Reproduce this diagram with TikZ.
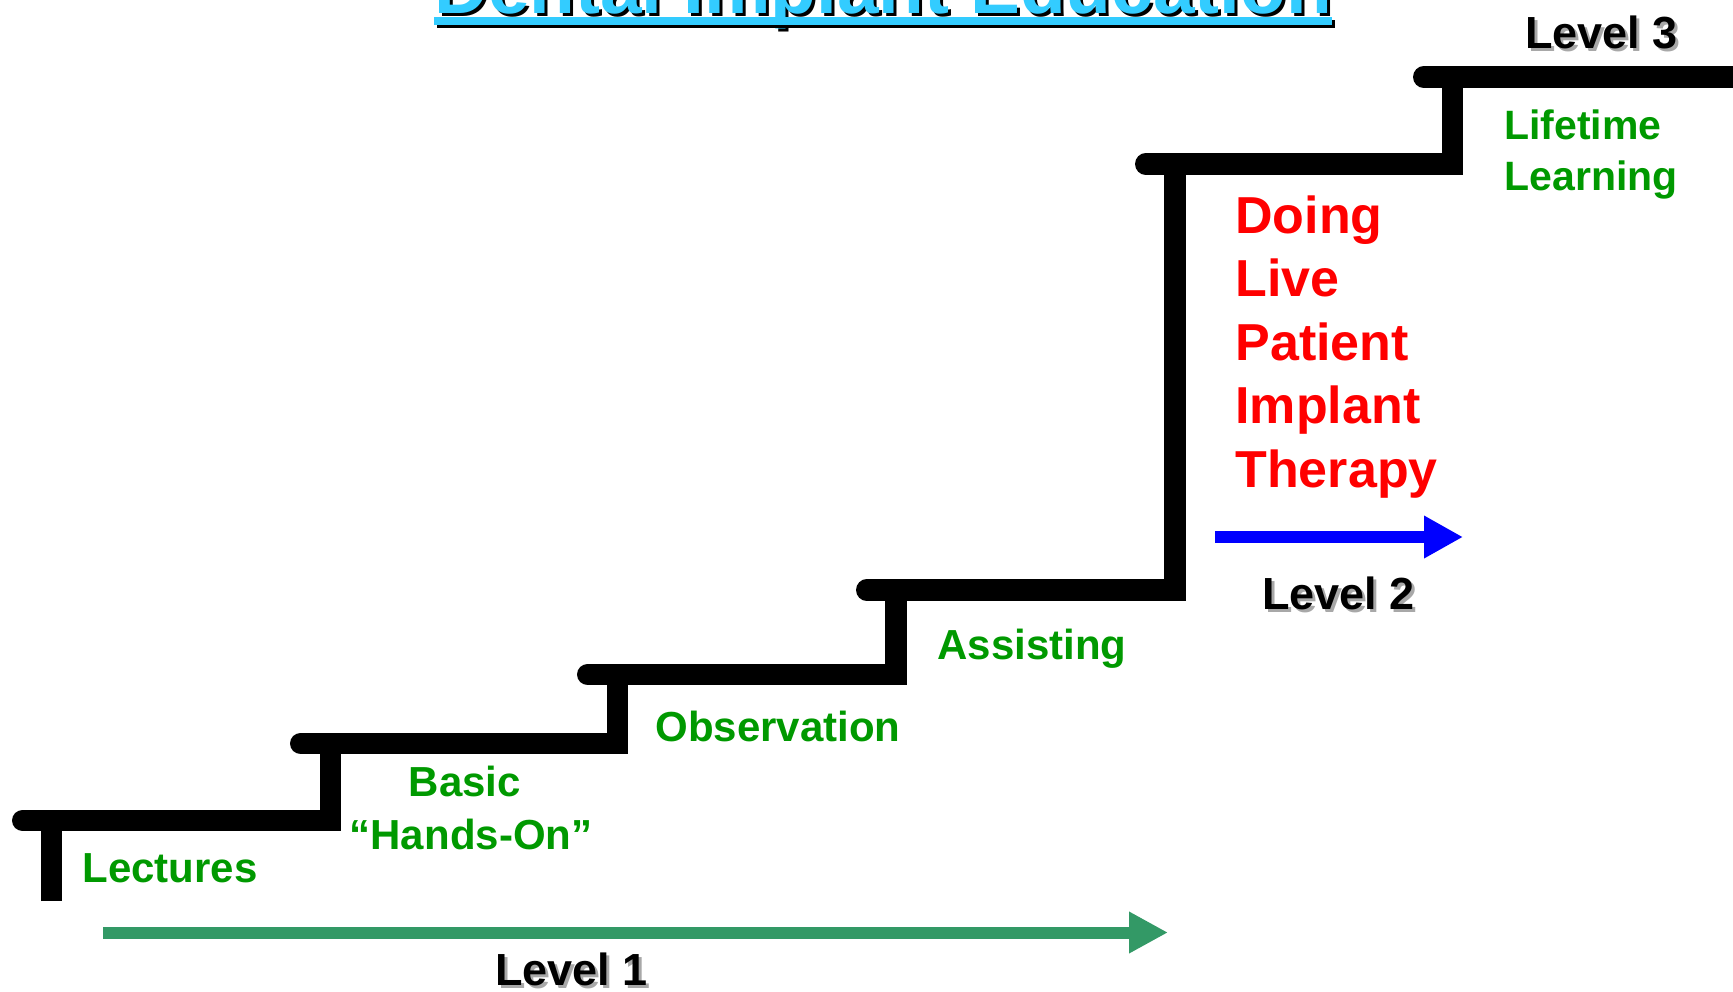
\documentclass[tikz,border=0pt]{standalone}
\usepackage{fontspec}
\setmainfont{Liberation Sans}
\usetikzlibrary{arrows.meta}
\definecolor{lblgreen}{HTML}{009900}
\definecolor{arrgreen}{HTML}{339966}
\definecolor{titlecyan}{HTML}{33CCFF}
\definecolor{shadowgray}{HTML}{A8A8A8}
\definecolor{arrblue}{HTML}{0000FF}
\definecolor{txtred}{HTML}{FF0000}
\begin{document}
\begin{tikzpicture}[x=0.5pt,y=-0.5pt,
  stair/.style={line width=10.75pt, draw=black, miter limit=10},
  stub/.style={line width=10.75pt, draw=black, line cap=round},
  lbl/.style={inner sep=0pt, anchor=base west, text=lblgreen, font=\fontsize{21pt}{25pt}\selectfont\bfseries},
  redlbl/.style={inner sep=0pt, anchor=base west, text=txtred, font=\fontsize{26pt}{31pt}\selectfont\bfseries},
  lvl/.style={inner sep=0pt, anchor=base west, text=black, font=\fontsize{22.5pt}{27pt}\selectfont\bfseries},
  lvlshadow/.style={lvl, text=shadowgray},
  titlefont/.style={inner sep=0pt, anchor=base, font=\fontsize{37.4pt}{44pt}\selectfont\bfseries},
  levelarrow/.style={line width=6pt}
]
\useasboundingbox (0,0) rectangle (1733,991);
\clip (0,0) rectangle (1733,991);

% Title (cut off at the top)
\node[titlefont, text=black] (tsh) at (886,16) {Dental Implant Education};
\node[titlefont, text=titlecyan] (t) at (883,13) {Dental Implant Education};
\coordinate (ua) at (0,17);
\coordinate (ub) at (0,25);
\coordinate (uc) at (0,20);
\coordinate (ud) at (0,28);
\fill[black] (tsh.west |- uc) rectangle (tsh.east |- ud);
\fill[titlecyan] (t.west |- ua) rectangle (t.east |- ub);

% Staircase
\draw[stair] (51.5,901) -- (51.5,820.5) -- (330.5,820.5) -- (330.5,743.5)
  -- (617.5,743.5) -- (617.5,674.5) -- (896,674.5) -- (896,590)
  -- (1175,590) -- (1175,164) -- (1452.5,164) -- (1452.5,77) -- (1745,77);
\draw[stub] (22.75,820.5) -- (51.5,820.5);
\draw[stub] (300.75,743.5) -- (330.5,743.5);
\draw[stub] (587.75,674.5) -- (617.5,674.5);
\draw[stub] (866.75,590) -- (896,590);
\draw[stub] (1145.75,164) -- (1175,164);
\draw[stub] (1423.75,77) -- (1452.5,77);

% Green labels
\node[lbl] (lect) at (82,882) {Lectures};
\node[lbl, anchor=base] (basic) at (465,796) {Basic};
\node[lbl, anchor=base] (hands) at (471,849) {``Hands-On''};
\node[lbl] (obs) at (655,741) {Observation};
\node[lbl] (assist) at (937,659) {Assisting};
\node[lbl, font=\fontsize{20.5pt}{25pt}\selectfont\bfseries] (life) at (1504,139) {Lifetime};
\node[lbl, font=\fontsize{20.5pt}{25pt}\selectfont\bfseries] (learn) at (1504,190) {Learning};

% Red labels
\node[redlbl] (d1) at (1235,233) {Doing};
\node[redlbl] (d2) at (1235,296.5) {Live};
\node[redlbl] (d3) at (1235,360) {Patient};
\node[redlbl] (d4) at (1235,423.5) {Implant};
\node[redlbl] (d5) at (1235,487) {Therapy};

% Level labels with shadows
\node[lvlshadow] (l1s) at (498,988) {Level 1};
\node[lvl] (l1) at (495,985) {Level 1};
\node[lvlshadow] (l2s) at (1265,612) {Level 2};
\node[lvl] (l2) at (1262,609) {Level 2};
\node[lvlshadow] (l3s) at (1528,51) {Level 3};
\node[lvl] (l3) at (1525,48) {Level 3};

% Arrows
\coordinate (g1) at (103,932.5);
\coordinate (g2) at (1168,932.5);
\draw[levelarrow, arrgreen, -{Triangle[length=19.5pt,width=19.5pt]}] (g1) -- (g2);
\coordinate (b1) at (1215,537);
\coordinate (b2) at (1463,537);
\draw[levelarrow, arrblue, -{Triangle[length=19.5pt,width=20pt]}] (b1) -- (b2);
\end{tikzpicture}
\end{document}
